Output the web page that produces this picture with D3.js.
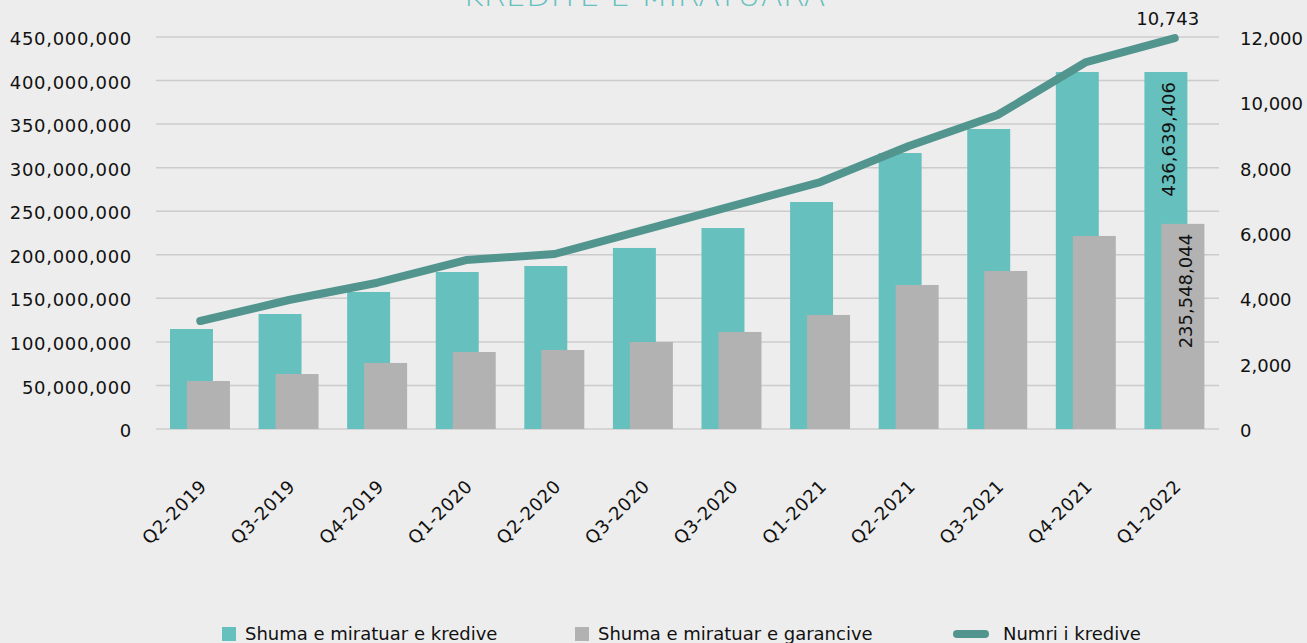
<!DOCTYPE html>
<html>
<head>
<meta charset="utf-8">
<script src="https://cdn.jsdelivr.net/npm/d3@7"></script>
<style>
    html, body { margin: 0; padding: 0; background: #ededed; }
    svg { display: block; font-family: "DejaVu Sans", sans-serif; }
</style>
</head>
<body>
<svg id="chart" width="1307" height="643"></svg>
<script>
// quarters (Q3-2020 appears twice in the original)
const quarters = ["Q2-2019", "Q3-2019", "Q4-2019", "Q1-2020", "Q2-2020", "Q3-2020",
    "Q3-2020", "Q1-2021", "Q2-2021", "Q3-2021", "Q4-2021", "Q1-2022"];
// Shuma e miratuar e kredive (EUR)
const loanAmounts = [114.8e6, 132.0e6, 157.3e6, 180.2e6, 187.1e6, 207.8e6,
    230.7e6, 260.6e6, 316.8e6, 344.4e6, 409.8e6, 409.8e6];
// Shuma e miratuar e garancive (EUR)
const guaranteeAmounts = [55.1e6, 63.1e6, 75.8e6, 88.4e6, 90.7e6, 99.9e6,
    111.4e6, 130.9e6, 165.3e6, 181.4e6, 221.6e6, 235.5e6];
// Numri i kredive
const loanCounts = [3306, 3949, 4478, 5173, 5357, 6091, 6826, 7560, 8663, 9611, 11234, 11968];

const leftTicks = d3.range(0, 450e6 + 1, 50e6);
const rightTicks = d3.range(0, 12001, 2000);

// labels shown on the last quarter
const lastLoanLabel = "436,639,406";
const lastGuaranteeLabel = "235,548,044";
const lastCountLabel = "10,743";

const svg = d3.select("#chart");
const plot = { left: 156, right: 1219, top: 37, bottom: 429 };

const x = d3.scaleBand().domain(d3.range(quarters.length)).range([plot.left, plot.right]);
const yL = d3.scaleLinear().domain([0, 450e6]).range([plot.bottom, plot.top]);
const yR = d3.scaleLinear().domain([0, 12000]).range([plot.bottom, plot.top]);

const teal = "#66c0bd";
const grey = "#b2b2b2";
const lineColor = "#52958f";
const fmt = d3.format(",");

// title (cut by the top edge like in the original)
svg.append("text")
    .attr("x", 644).attr("y", 6)
    .attr("text-anchor", "middle")
    .style("font-size", "32px").style("font-weight", 200)
    .style("fill", teal)
    .text("KREDITË E MIRATUARA");

// grid
svg.append("g").selectAll("line")
    .data(leftTicks)
    .join("line")
    .attr("x1", plot.left).attr("x2", plot.right)
    .attr("y1", d => yL(d)).attr("y2", d => yL(d))
    .attr("stroke", "#cccccc").attr("stroke-width", 1.5);

// left axis
const leftAxis = svg.append("g")
    .attr("transform", `translate(${plot.left - 24},0)`)
    .call(d3.axisLeft(yL).tickValues(leftTicks).tickFormat(fmt).tickSize(0).tickPadding(0));
leftAxis.select(".domain").remove();
leftAxis.selectAll("text")
    .style("font-size", "18px").style("font-family", "DejaVu Sans")
    .style("letter-spacing", "0.7px")
    .attr("dy", "0.42em").attr("fill", "#111");

// right axis
const rightAxis = svg.append("g")
    .attr("transform", `translate(1240,0)`)
    .call(d3.axisRight(yR).tickValues(rightTicks).tickFormat(fmt).tickSize(0).tickPadding(0));
rightAxis.select(".domain").remove();
rightAxis.selectAll("text")
    .style("font-size", "18px").style("font-family", "DejaVu Sans")
    .attr("dy", "0.42em").attr("fill", "#111");

const bw = x.bandwidth();

// bars
svg.append("g").selectAll("rect")
    .data(loanAmounts)
    .join("rect")
    .attr("x", (d, i) => x(i) + bw * 0.158)
    .attr("width", bw * 0.485)
    .attr("y", d => yL(d))
    .attr("height", d => yL(0) - yL(d))
    .attr("fill", teal);

svg.append("g").selectAll("rect")
    .data(guaranteeAmounts)
    .join("rect")
    .attr("x", (d, i) => x(i) + bw * 0.35)
    .attr("width", bw * 0.485)
    .attr("y", d => yL(d))
    .attr("height", d => yL(0) - yL(d))
    .attr("fill", grey);

// line
const line = d3.line()
    .x((d, i) => x(i) + bw / 2)
    .y(d => yR(d));

svg.append("path")
    .datum(loanCounts)
    .attr("d", line)
    .attr("fill", "none")
    .attr("stroke", lineColor)
    .attr("stroke-width", 8)
    .attr("stroke-linecap", "round")
    .attr("stroke-linejoin", "round");

// data labels on the last quarter
const last = quarters.length - 1;
const labelStyle = sel => sel.style("font-size", "18px").attr("fill", "#111");

svg.append("text")
    .attr("transform", `translate(${x(last) + bw * 0.158 + bw * 0.485 / 2 + 9},${yL(loanAmounts[last]) + 10}) rotate(-90)`)
    .attr("text-anchor", "end")
    .call(labelStyle)
    .text(lastLoanLabel);

svg.append("text")
    .attr("transform", `translate(${x(last) + bw * 0.35 + bw * 0.485 / 2 + 9},${yL(guaranteeAmounts[last]) + 10}) rotate(-90)`)
    .attr("text-anchor", "end")
    .call(labelStyle)
    .text(lastGuaranteeLabel);

svg.append("text")
    .attr("x", x(last) + bw / 2 - 7)
    .attr("y", yR(loanCounts[last]) - 13)
    .attr("text-anchor", "middle")
    .call(labelStyle)
    .text(lastCountLabel);

// x labels
svg.append("g").selectAll("text")
    .data(quarters)
    .join("text")
    .attr("transform", (d, i) => `translate(${x(i) + bw / 2 + 3},${483}) rotate(-45)`)
    .attr("text-anchor", "end")
    .attr("dy", "0.35em")
    .style("letter-spacing", "0.6px")
    .call(labelStyle)
    .text(d => d);

// legend
const legend = svg.append("g");
const legendItems = [
    { label: "Shuma e miratuar e kredive", color: teal, type: "rect", x: 222 },
    { label: "Shuma e miratuar e garancive", color: grey, type: "rect", x: 575 },
    { label: "Numri i kredive", color: lineColor, type: "line", x: 953 }
];
legendItems.forEach(item => {
    if (item.type === "rect") {
        legend.append("rect")
            .attr("x", item.x).attr("y", 627)
            .attr("width", 14).attr("height", 14)
            .attr("fill", item.color);
        legend.append("text")
            .attr("x", item.x + 23).attr("y", 640)
            .call(labelStyle)
            .text(item.label);
    } else {
        legend.append("line")
            .attr("x1", item.x + 4).attr("x2", item.x + 32)
            .attr("y1", 634).attr("y2", 634)
            .attr("stroke", item.color).attr("stroke-width", 8)
            .attr("stroke-linecap", "round");
        legend.append("text")
            .attr("x", item.x + 50).attr("y", 640)
            .call(labelStyle)
            .text(item.label);
    }
});
</script>
</body>
</html>
